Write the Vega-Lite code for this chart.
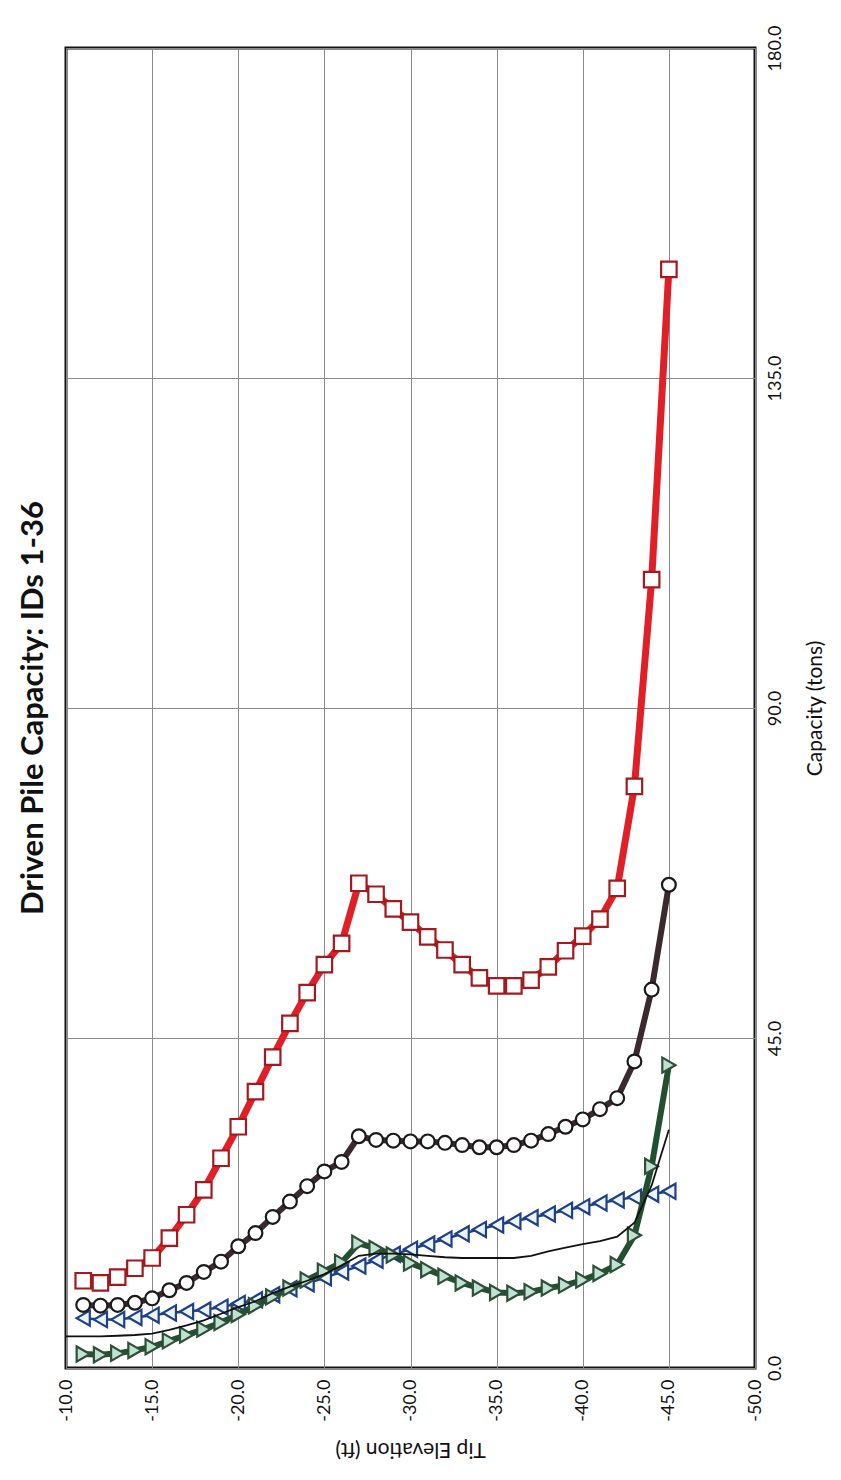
{
  "$schema": "https://vega.github.io/schema/vega-lite/v6.json",
  "autosize": {"type": "none"},
  "padding": {"left": 66, "top": 48, "right": 86, "bottom": 112},
  "width": 689,
  "height": 1320,
  "background": "white",
  "title": {
    "text": "Driven Pile Capacity: IDs 1-36",
    "orient": "left",
    "angle": 270,
    "anchor": "middle",
    "font": "Lato",
    "fontSize": 31,
    "fontWeight": "bold",
    "color": "#111111",
    "offset": 7
  },
  "config": {
    "view": {"stroke": "#111111", "strokeWidth": 3},
    "axis": {
      "labelFont": "Lato",
      "labelFontSize": 18,
      "labelColor": "#111111",
      "titleFont": "Lato",
      "titleFontSize": 21,
      "titleFontWeight": "normal",
      "titleColor": "#111111",
      "gridColor": "#8a8a8a",
      "gridWidth": 1,
      "gridOpacity": 1,
      "ticks": false,
      "domain": false
    }
  },
  "datasets": {
    "red": [
      {"e": -11, "c": 11.9}, {"e": -12, "c": 11.6}, {"e": -13, "c": 12.4}, {"e": -14, "c": 13.6}, {"e": -15, "c": 15.0},
      {"e": -16, "c": 17.7}, {"e": -17, "c": 20.9}, {"e": -18, "c": 24.3}, {"e": -19, "c": 28.6}, {"e": -20, "c": 32.9},
      {"e": -21, "c": 37.7}, {"e": -22, "c": 42.4}, {"e": -23, "c": 47.0}, {"e": -24, "c": 51.2}, {"e": -25, "c": 55.0},
      {"e": -26, "c": 57.9}, {"e": -27, "c": 66.1}, {"e": -28, "c": 64.6}, {"e": -29, "c": 62.6}, {"e": -30, "c": 60.8},
      {"e": -31, "c": 58.8}, {"e": -32, "c": 57.0}, {"e": -33, "c": 55.0}, {"e": -34, "c": 53.2}, {"e": -35, "c": 52.1},
      {"e": -36, "c": 52.1}, {"e": -37, "c": 52.9}, {"e": -38, "c": 54.7}, {"e": -39, "c": 56.9}, {"e": -40, "c": 58.9},
      {"e": -41, "c": 61.2}, {"e": -42, "c": 65.4}, {"e": -43, "c": 79.3}, {"e": -44, "c": 107.5}, {"e": -45, "c": 149.8}
    ],
    "circ": [
      {"e": -11, "c": 8.6}, {"e": -12, "c": 8.5}, {"e": -13, "c": 8.6}, {"e": -14, "c": 8.9}, {"e": -15, "c": 9.5},
      {"e": -16, "c": 10.6}, {"e": -17, "c": 11.6}, {"e": -18, "c": 13.1}, {"e": -19, "c": 14.5}, {"e": -20, "c": 16.6},
      {"e": -21, "c": 18.4}, {"e": -22, "c": 20.6}, {"e": -23, "c": 22.7}, {"e": -24, "c": 24.8}, {"e": -25, "c": 26.8},
      {"e": -26, "c": 28.1}, {"e": -27, "c": 31.6}, {"e": -28, "c": 31.1}, {"e": -29, "c": 31.0}, {"e": -30, "c": 30.9},
      {"e": -31, "c": 30.9}, {"e": -32, "c": 30.7}, {"e": -33, "c": 30.4}, {"e": -34, "c": 30.1}, {"e": -35, "c": 30.1},
      {"e": -36, "c": 30.4}, {"e": -37, "c": 31.0}, {"e": -38, "c": 31.9}, {"e": -39, "c": 32.9}, {"e": -40, "c": 33.9},
      {"e": -41, "c": 35.3}, {"e": -42, "c": 36.8}, {"e": -43, "c": 41.8}, {"e": -44, "c": 51.6}, {"e": -45, "c": 65.9}
    ],
    "blue": [
      {"e": -11, "c": 6.8}, {"e": -12, "c": 6.6}, {"e": -13, "c": 6.6}, {"e": -14, "c": 6.9}, {"e": -15, "c": 7.2},
      {"e": -16, "c": 7.5}, {"e": -17, "c": 7.7}, {"e": -18, "c": 7.9}, {"e": -19, "c": 8.3}, {"e": -20, "c": 8.8},
      {"e": -21, "c": 9.3}, {"e": -22, "c": 10.0}, {"e": -23, "c": 10.8}, {"e": -24, "c": 11.5}, {"e": -25, "c": 12.3},
      {"e": -26, "c": 13.1}, {"e": -27, "c": 13.9}, {"e": -28, "c": 14.7}, {"e": -29, "c": 15.5}, {"e": -30, "c": 16.2},
      {"e": -31, "c": 16.9}, {"e": -32, "c": 17.6}, {"e": -33, "c": 18.3}, {"e": -34, "c": 18.9}, {"e": -35, "c": 19.5},
      {"e": -36, "c": 20.0}, {"e": -37, "c": 20.5}, {"e": -38, "c": 21.0}, {"e": -39, "c": 21.5}, {"e": -40, "c": 22.0},
      {"e": -41, "c": 22.5}, {"e": -42, "c": 22.9}, {"e": -43, "c": 23.3}, {"e": -44, "c": 23.7}, {"e": -45, "c": 24.1}
    ],
    "green": [
      {"e": -11, "c": 1.9}, {"e": -12, "c": 1.8}, {"e": -13, "c": 2.0}, {"e": -14, "c": 2.4}, {"e": -15, "c": 2.9},
      {"e": -16, "c": 3.7}, {"e": -17, "c": 4.5}, {"e": -18, "c": 5.3}, {"e": -19, "c": 6.2}, {"e": -20, "c": 7.3},
      {"e": -21, "c": 8.5}, {"e": -22, "c": 9.7}, {"e": -23, "c": 10.9}, {"e": -24, "c": 12.0}, {"e": -25, "c": 13.2},
      {"e": -26, "c": 14.4}, {"e": -27, "c": 17.0}, {"e": -28, "c": 16.3}, {"e": -29, "c": 15.4}, {"e": -30, "c": 14.3},
      {"e": -31, "c": 13.4}, {"e": -32, "c": 12.5}, {"e": -33, "c": 11.6}, {"e": -34, "c": 10.9}, {"e": -35, "c": 10.3},
      {"e": -36, "c": 10.2}, {"e": -37, "c": 10.4}, {"e": -38, "c": 10.9}, {"e": -39, "c": 11.3}, {"e": -40, "c": 12.0},
      {"e": -41, "c": 12.9}, {"e": -42, "c": 14.1}, {"e": -43, "c": 18.1}, {"e": -44, "c": 27.5}, {"e": -45, "c": 41.3}
    ],
    "thin": [
      {"e": -10, "c": 4.3}, {"e": -11, "c": 4.3}, {"e": -12, "c": 4.3}, {"e": -13, "c": 4.4}, {"e": -14, "c": 4.5},
      {"e": -15, "c": 4.7}, {"e": -16, "c": 5.2}, {"e": -17, "c": 5.8}, {"e": -18, "c": 6.5}, {"e": -19, "c": 7.4},
      {"e": -20, "c": 8.3}, {"e": -21, "c": 9.1}, {"e": -22, "c": 10.2}, {"e": -23, "c": 11.1}, {"e": -24, "c": 11.9},
      {"e": -25, "c": 12.8}, {"e": -26, "c": 14.0}, {"e": -27, "c": 15.3}, {"e": -28, "c": 15.6}, {"e": -29, "c": 15.6},
      {"e": -30, "c": 15.5}, {"e": -31, "c": 15.3}, {"e": -32, "c": 15.1}, {"e": -33, "c": 15.0}, {"e": -34, "c": 15.0},
      {"e": -35, "c": 15.0}, {"e": -36, "c": 15.0}, {"e": -37, "c": 15.3}, {"e": -38, "c": 15.9}, {"e": -39, "c": 16.4},
      {"e": -40, "c": 16.9}, {"e": -41, "c": 17.3}, {"e": -42, "c": 17.9}, {"e": -43, "c": 19.8}, {"e": -44, "c": 24.9},
      {"e": -45, "c": 32.5}
    ]
  },
  "encoding": {
    "x": {
      "field": "e", "type": "quantitative",
      "scale": {"domain": [-50, -10], "reverse": true, "nice": false, "zero": false},
      "axis": {
        "orient": "bottom",
        "values": [-10, -15, -20, -25, -30, -35, -40, -45, -50],
        "format": ".1f",
        "labelExpr": "replace(datum.label, '\u2212', '-')",
        "labelAngle": 270,
        "labelPadding": 11,
        "title": "Tip Elevation (ft)",
        "titleAngle": 180,
        "titleBaseline": "middle",
        "titleX": 344,
        "titleY": 80
      }
    },
    "y": {
      "field": "c", "type": "quantitative",
      "scale": {"domain": [0, 180], "nice": false, "zero": true},
      "axis": {
        "orient": "right",
        "values": [0, 45, 90, 135, 180],
        "format": ".1f",
        "labelAngle": 270,
        "labelPadding": 11,
        "title": "Capacity (tons)",
        "titleAngle": 270,
        "titleBaseline": "middle",
        "titleX": 60,
        "titleY": 660
      }
    }
  },
  "layer": [
    {"data": {"name": "blue"}, "mark": {"type": "line", "color": "#1f3f86", "strokeWidth": 2.5}},
    {"data": {"name": "blue"}, "mark": {"type": "point", "shape": "triangle-left", "size": 230, "filled": true, "fill": "#eaf5f8", "stroke": "#1f3f86", "strokeWidth": 2.2, "opacity": 1}},
    {"data": {"name": "green"}, "mark": {"type": "line", "color": "#234f31", "strokeWidth": 6}},
    {"data": {"name": "green"}, "mark": {"type": "point", "shape": "triangle-right", "size": 230, "filled": true, "fill": "#bfe3d2", "stroke": "#2f4f3a", "strokeWidth": 2.2, "opacity": 1}},
    {"data": {"name": "thin"}, "mark": {"type": "line", "color": "#111111", "strokeWidth": 1.8}},
    {"data": {"name": "circ"}, "mark": {"type": "line", "color": "#3b2a2d", "strokeWidth": 6}},
    {"data": {"name": "circ"}, "mark": {"type": "point", "shape": "circle", "size": 190, "filled": true, "fill": "#ffffff", "stroke": "#1a1a1a", "strokeWidth": 2.2, "opacity": 1}},
    {"data": {"name": "red"}, "mark": {"type": "line", "color": "#e01f26", "strokeWidth": 7}},
    {"data": {"name": "red"}, "mark": {"type": "point", "shape": "square", "size": 240, "filled": true, "fill": "#ffffff", "stroke": "#a3191e", "strokeWidth": 2.2, "opacity": 1}}
  ]
}
